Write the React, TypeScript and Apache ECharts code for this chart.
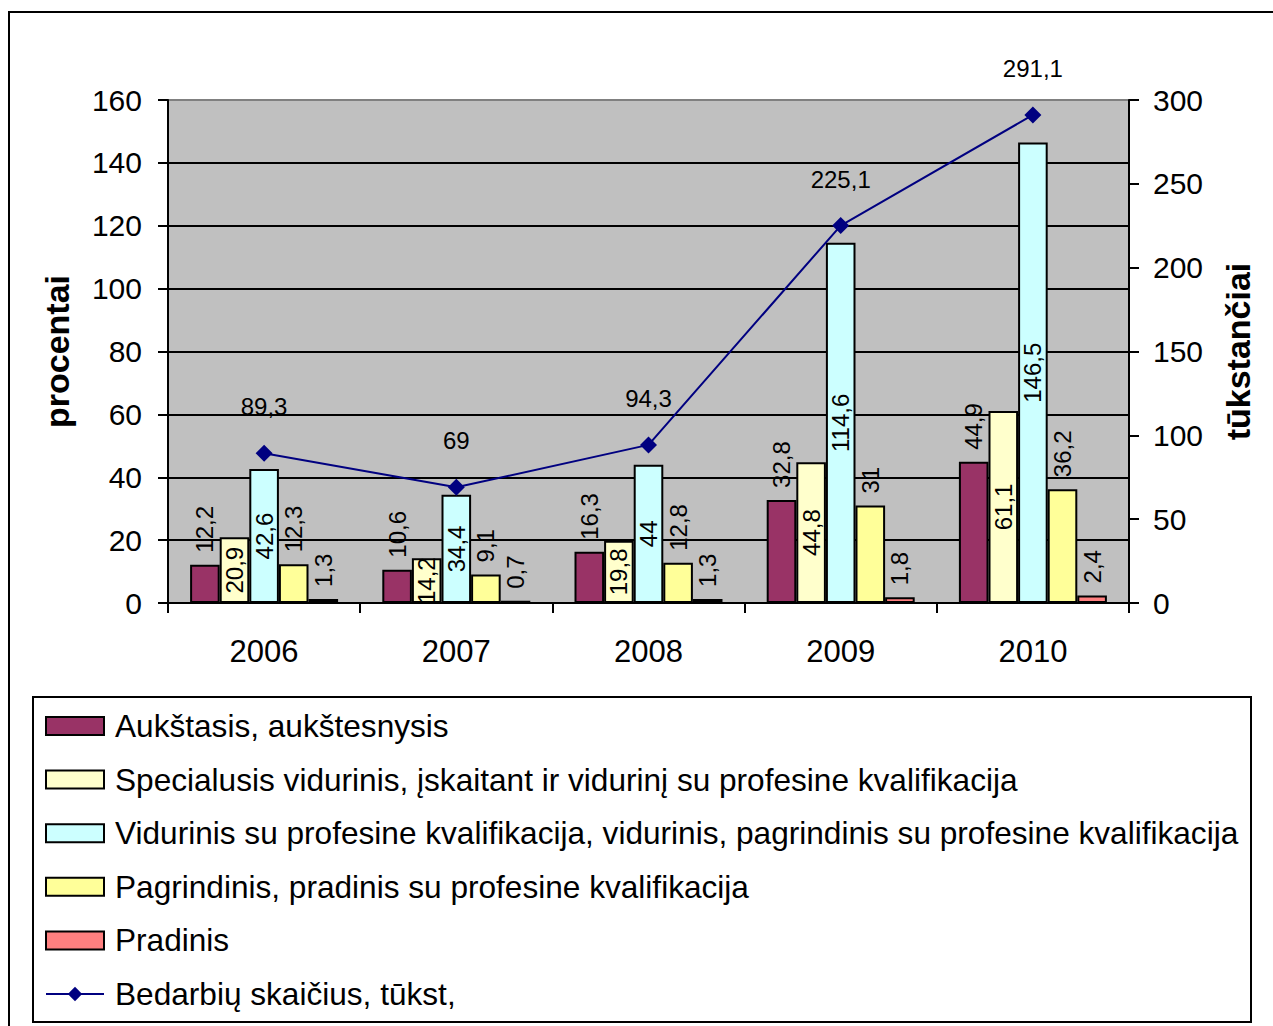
import React, { useEffect, useRef } from "react";
import * as echarts from "echarts";

const years = ["2006", "2007", "2008", "2009", "2010"];
const aukstasis = [12.2, 10.6, 16.3, 32.8, 44.9];
const specialusis = [20.9, 14.2, 19.8, 44.8, 61.1];
const vidurinis = [42.6, 34.4, 44, 114.6, 146.5];
const pagrindinis = [12.3, 9.1, 12.8, 31, 36.2];
const pradinis = [1.3, 0.7, 1.3, 1.8, 2.4];
const bedarbiai = [89.3, 69, 94.3, 225.1, 291.1];

const seriesNames = [
  "Aukštasis, aukštesnysis",
  "Specialusis vidurinis, įskaitant ir vidurinį su profesine kvalifikacija",
  "Vidurinis su profesine kvalifikacija, vidurinis, pagrindinis su profesine kvalifikacija",
  "Pagrindinis, pradinis su profesine kvalifikacija",
  "Pradinis",
  "Bedarbių skaičius, tūkst,",
];
const seriesColors = ["#993366", "#FFFFCC", "#CCFFFF", "#FFFF99", "#FF8080", "#000080"];

const FONT = "Liberation Sans, Arial, sans-serif";
const fmt = (v: number) => String(v).replace(".", ",");

export default function App() {
  const ref = useRef<HTMLDivElement>(null);
  useEffect(() => {
    document.body.style.margin = "0";
    if (!ref.current) return;
    const chart = echarts.init(ref.current, null, { renderer: "svg" });

    const topLabel = {
      show: true,
      position: "top",
      rotate: 90,
      align: "left",
      verticalAlign: "middle",
      distance: 12,
      fontSize: 24,
      fontFamily: FONT,
      color: "#000",
      formatter: (p: any) => fmt(p.value),
    };
    const insideLabel = {
      show: true,
      position: "inside",
      rotate: 90,
      align: "center",
      verticalAlign: "middle",
      fontSize: 24,
      fontFamily: FONT,
      color: "#000",
      formatter: (p: any) => fmt(p.value),
    };
    const barData = [aukstasis, specialusis, vidurinis, pagrindinis, pradinis];
    const labels = [topLabel, insideLabel, insideLabel, topLabel, topLabel];

    const barSeries = barData.map((d, i) => ({
      name: seriesNames[i],
      type: "bar",
      yAxisIndex: 0,
      data: d,
      barGap: "0%",
      barCategoryGap: "23%",
      itemStyle: { color: seriesColors[i], borderColor: "#000", borderWidth: 2 },
      label: labels[i],
    }));

    const splitColors = ["#000", "#000", "#000", "#000", "#000", "#000", "#000", "#000", "#808080"];

    chart.setOption({
      animation: false,
      textStyle: { fontFamily: FONT },
      grid: {
        left: 168,
        top: 100,
        width: 961,
        height: 503,
        show: true,
        backgroundColor: "#C0C0C0",
        borderWidth: 0,
      },
      xAxis: {
        type: "category",
        data: years,
        axisLine: { lineStyle: { color: "#000", width: 2 } },
        axisTick: { show: true, length: 10, lineStyle: { color: "#000", width: 2 } },
        axisLabel: { fontSize: 31, color: "#000", margin: 33, fontFamily: FONT },
      },
      yAxis: [
        {
          type: "value",
          min: 0,
          max: 160,
          interval: 20,
          name: "procentai",
          nameLocation: "middle",
          nameRotate: 90,
          nameGap: 94,
          nameTextStyle: { fontSize: 34, fontWeight: "bold", color: "#000", fontFamily: FONT },
          axisLine: { show: true, lineStyle: { color: "#000", width: 2 } },
          axisTick: { show: true, length: 10, lineStyle: { color: "#000", width: 2 } },
          axisLabel: { fontSize: 30, color: "#000", margin: 26, fontFamily: FONT },
          splitLine: { show: true, lineStyle: { color: splitColors, width: 2 } },
        },
        {
          type: "value",
          min: 0,
          max: 300,
          interval: 50,
          position: "right",
          name: "tūkstančiai",
          nameLocation: "middle",
          nameRotate: 90,
          nameGap: 92,
          nameTextStyle: { fontSize: 34, fontWeight: "bold", color: "#000", fontFamily: FONT },
          axisLine: { show: true, lineStyle: { color: "#000", width: 2 } },
          axisTick: { show: true, length: 10, lineStyle: { color: "#000", width: 2 } },
          axisLabel: { fontSize: 30, color: "#000", margin: 24, fontFamily: FONT },
          splitLine: { show: false },
        },
      ],
      legend: {
        orient: "vertical",
        left: 45,
        top: 709,
        padding: 0,
        itemWidth: 58,
        itemHeight: 18,
        itemGap: 19.6,
        textStyle: {
          fontSize: 31.6,
          color: "#000",
          fontFamily: FONT,
          lineHeight: 34,
          padding: [0, 0, 0, 6],
        },
        data: [
          { name: seriesNames[0], icon: "rect" },
          { name: seriesNames[1], icon: "rect" },
          { name: seriesNames[2], icon: "rect" },
          { name: seriesNames[3], icon: "rect" },
          { name: seriesNames[4], icon: "rect" },
          { name: seriesNames[5] },
        ],
      },
      graphic: [
        {
          type: "rect",
          shape: { x: 9, y: 12, width: 1300, height: 1100 },
          style: { fill: "none", stroke: "#000", lineWidth: 2 },
          silent: true,
          z: -10,
        },
        {
          type: "rect",
          shape: { x: 33, y: 697, width: 1218, height: 325 },
          style: { fill: "none", stroke: "#000", lineWidth: 2 },
          silent: true,
        },
      ],
      series: [
        ...barSeries,
        {
          name: seriesNames[5],
          type: "line",
          yAxisIndex: 1,
          data: bedarbiai,
          symbol: "diamond",
          symbolSize: 17,
          itemStyle: { color: "#000080" },
          lineStyle: { color: "#000080", width: 2 },
          label: {
            show: true,
            position: "top",
            distance: 26,
            fontSize: 24,
            fontFamily: FONT,
            color: "#000",
            formatter: (p: any) => fmt(p.value),
          },
          z: 5,
        },
      ],
    });
    return () => chart.dispose();
  }, []);
  return <div ref={ref} style={{ width: 1273, height: 1026 }} />;
}
